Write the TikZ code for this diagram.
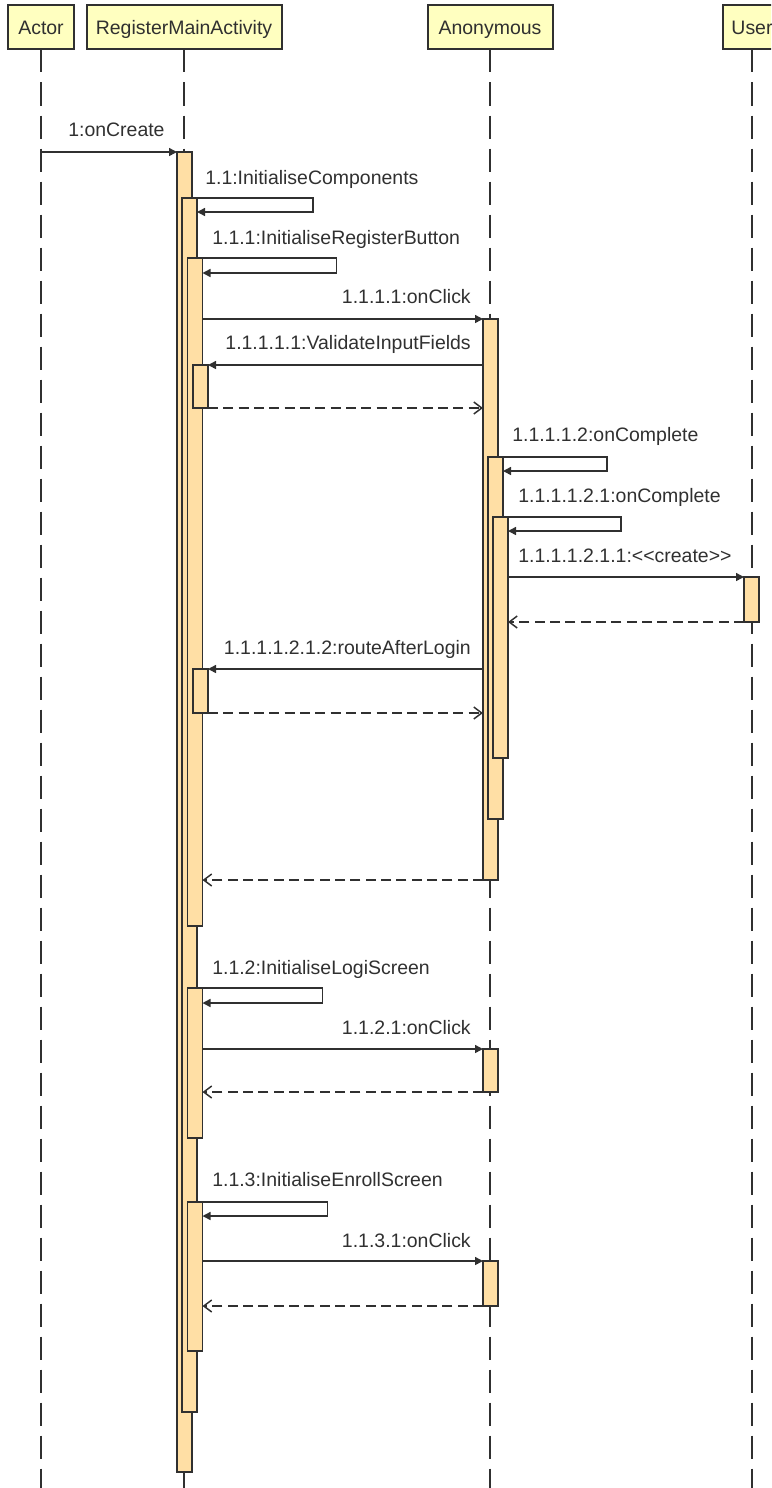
\documentclass[tikz,border=0pt]{standalone}
\usepackage{fontspec}
\setmainfont{Liberation Sans}
\usetikzlibrary{arrows.meta}
\definecolor{hdrfill}{HTML}{FFFFC0}
\definecolor{barfill}{HTML}{FFDFA5}
\definecolor{ink}{HTML}{303030}
\newcommand\actbar[4]{\node[actbox, minimum height={(#4-#3)*0.75pt}] (#1) at (#2,#3) {};}
\begin{document}
\begin{tikzpicture}[x=0.75pt,y=-0.75pt,
  every node/.style={font=\fontsize{14.6pt}{17pt}\selectfont, text=ink},
  header/.style={draw=ink, line width=1.5pt, fill=hdrfill, minimum height=33pt, inner sep=0pt, outer sep=0pt, text height=10.5pt, text depth=0pt},
  actbox/.style={draw=ink, line width=1.1pt, fill=barfill, anchor=north west, minimum width=11.25pt, inner sep=0pt, outer sep=0pt},
  lifeline/.style={draw=ink, line width=1.2pt, dash pattern=on 17.25pt off 7.5pt},
  msg/.style={draw=ink, line width=1.1pt, -{Triangle[length=6pt,width=6pt]}},
  ret/.style={draw=ink, line width=1.1pt, dash pattern=on 7.5pt off 4pt, -{Straight Barb[length=6pt,width=9pt]}},
  lbl/.style={inner sep=0pt, anchor=base west},
  lblr/.style={inner sep=0pt, anchor=base east},
]
\path[use as bounding box, clip] (0,0) rectangle (771,1488);

% headers
\node[header, minimum width=49.5pt] (hActor) at (41,27.5) {Actor};
\node[header, minimum width=146.25pt] (hRMA) at (184,27.5) {RegisterMainActivity};
\node[header, minimum width=93.75pt] (hAnon) at (490,27.5) {Anonymous};
\node[header, minimum width=44.25pt] (hUser) at (752,27.5) {User};

% lifelines
\coordinate (eActor) at (41,1492);
\coordinate (eRMA) at (184,1492);
\coordinate (eAnon) at (490,1492);
\coordinate (eUser) at (752,1492);
\draw[lifeline] (hActor.south) -- (eActor);
\draw[lifeline] (hRMA.south) -- (eRMA);
\draw[lifeline] (hAnon.south) -- (eAnon);
\draw[lifeline] (hUser.south) -- (eUser);

% activation bars
\actbar{r1}{177}{152}{1472}
\actbar{r2}{182}{198}{1412}
\actbar{r3}{187.5}{258}{926}
\actbar{v1}{193}{365}{408}
\actbar{v2}{193}{669}{713}
\actbar{r4}{187.5}{988}{1138}
\actbar{r5}{187.5}{1202}{1351}
\actbar{a1}{483}{319}{880}
\actbar{a2}{488}{457}{819}
\actbar{a3}{493}{517}{758}
\actbar{u1}{744}{577}{622}
\actbar{a4}{483}{1049}{1092}
\actbar{a5}{483}{1261}{1306}

% messages
\draw[msg] (hActor.south |- r1.north west) -- (r1.north west);
\draw[msg] (r2.north east) -- ++(116,0) -- ++(0,14) -- ++(-116,0);
\draw[msg] (r3.north east) -- ++(134,0) -- ++(0,15) -- ++(-134,0);
\draw[msg] (r3.east |- a1.north) -- (a1.north west);
\draw[msg] (a1.west |- v1.north) -- (v1.north east);
\draw[ret] (v1.south east) -- (a1.west |- v1.south);
\draw[msg] (a2.north east) -- ++(104,0) -- ++(0,14) -- ++(-104,0);
\draw[msg] (a3.north east) -- ++(113,0) -- ++(0,14) -- ++(-113,0);
\draw[msg] (a3.east |- u1.north) -- (u1.north west);
\draw[ret] (u1.south west) -- (a3.east |- u1.south);
\draw[msg] (a1.west |- v2.north) -- (v2.north east);
\draw[ret] (v2.south east) -- (a1.west |- v2.south);
\draw[ret] (a1.south west) -- (r3.east |- a1.south);
\draw[msg] (r4.north east) -- ++(120,0) -- ++(0,15) -- ++(-120,0);
\draw[msg] (r4.east |- a4.north) -- (a4.north west);
\draw[ret] (a4.south west) -- (r4.east |- a4.south);
\draw[msg] (r5.north east) -- ++(125,0) -- ++(0,14) -- ++(-125,0);
\draw[msg] (r5.east |- a5.north) -- (a5.north west);
\draw[ret] (a5.south west) -- (r5.east |- a5.south);

% labels
\node[lbl] (m1) at (68,137) {1:onCreate};
\node[lbl] (m11) at (205,184) {1.1:InitialiseComponents};
\node[lbl] (m111) at (212,244) {1.1.1:InitialiseRegisterButton};
\node[lblr] (m1111) at (471,303) {1.1.1.1:onClick};
\node[lblr] (m11111) at (471,349) {1.1.1.1.1:ValidateInputFields};
\node[lbl] (m11112) at (512,441) {1.1.1.1.2:onComplete};
\node[lbl] (m111121) at (518,502) {1.1.1.1.2.1:onComplete};
\node[lbl] (m1111211) at (518,562) {1.1.1.1.2.1.1:<\kern0pt<create>\kern0pt>};
\node[lblr] (m1111212) at (471,654) {1.1.1.1.2.1.2:routeAfterLogin};
\node[lbl] (m112) at (212,974) {1.1.2:InitialiseLogiScreen};
\node[lblr] (m1121) at (471,1034) {1.1.2.1:onClick};
\node[lbl] (m113) at (212,1186) {1.1.3:InitialiseEnrollScreen};
\node[lblr] (m1131) at (471,1247) {1.1.3.1:onClick};
\end{tikzpicture}
\end{document}
